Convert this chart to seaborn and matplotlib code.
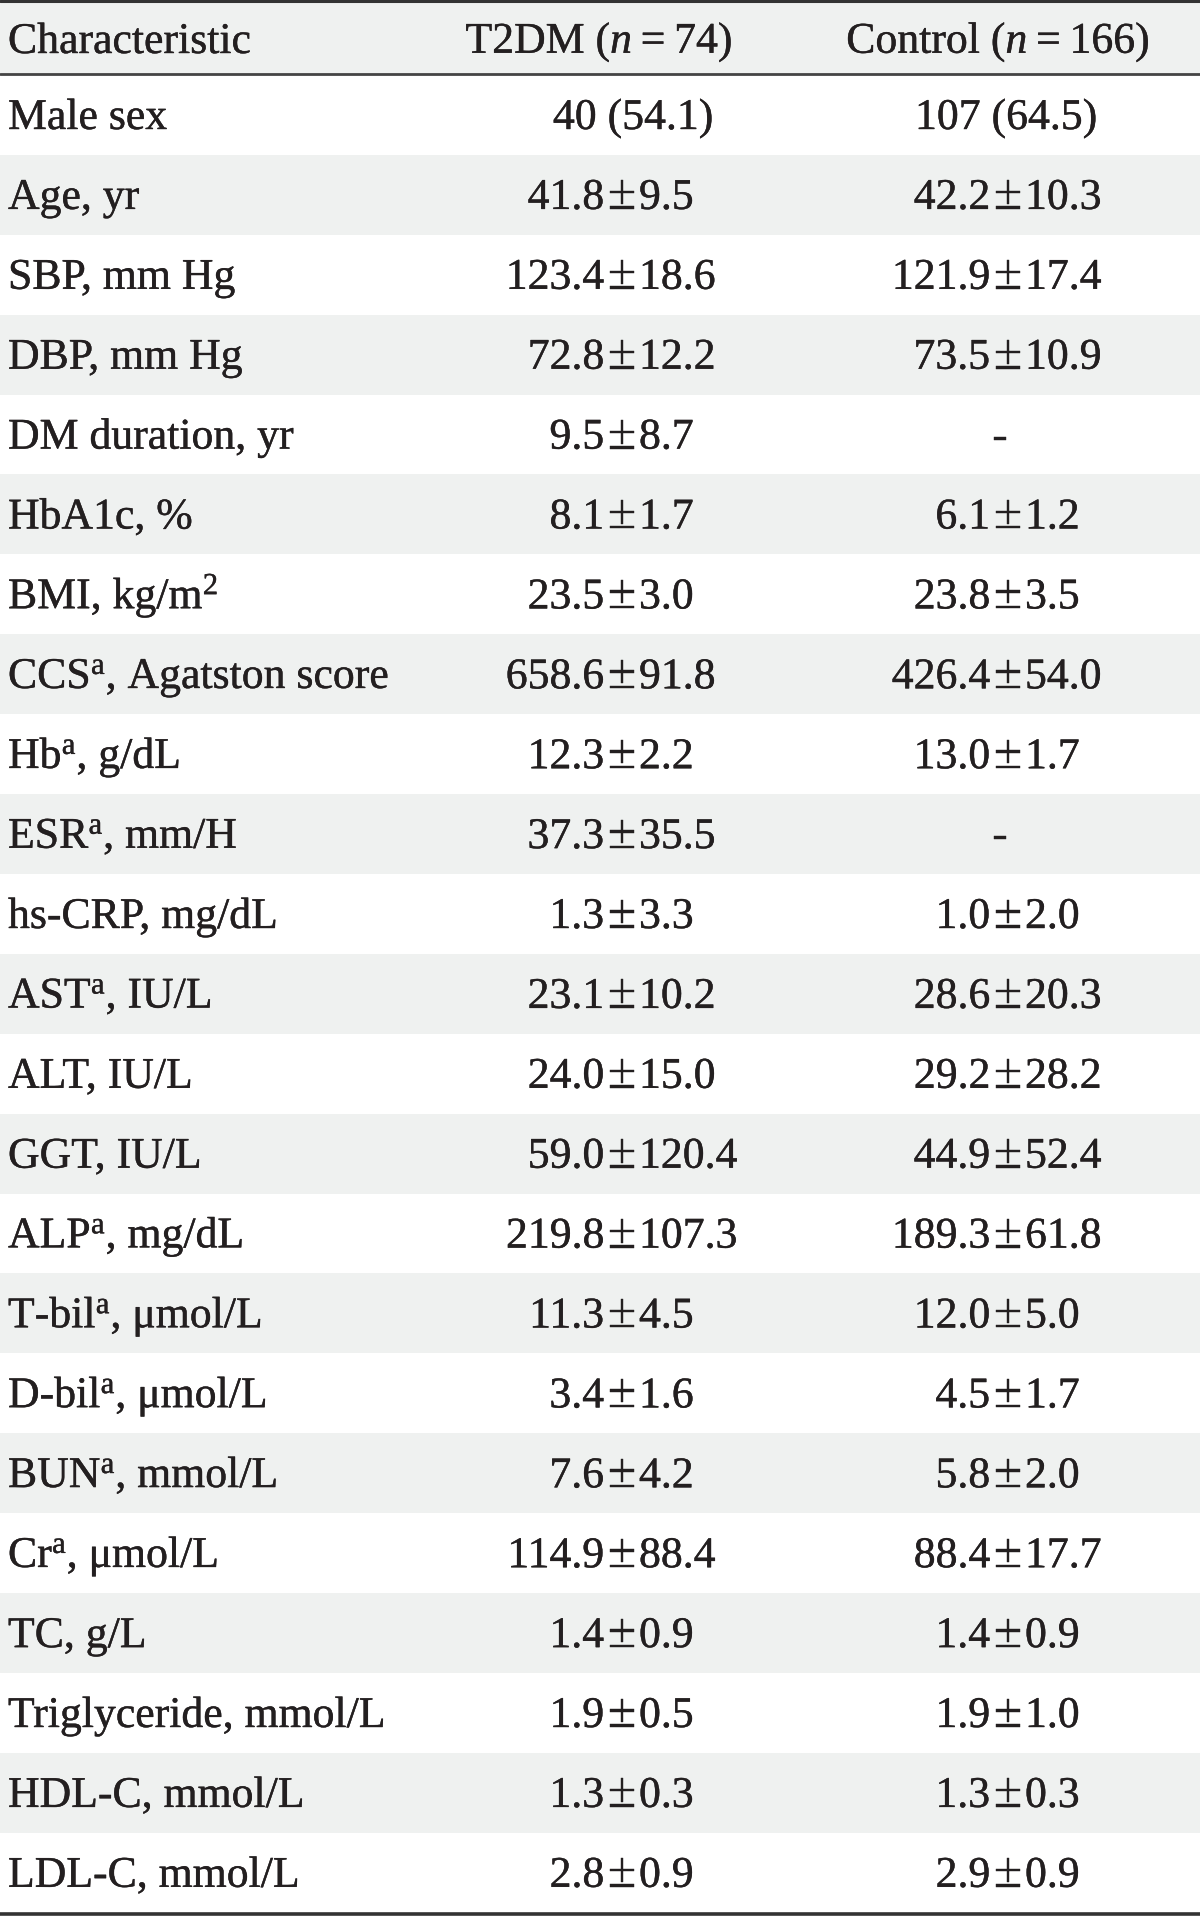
import matplotlib
matplotlib.use("Agg")
import matplotlib.pyplot as plt
import matplotlib.patheffects as pe
import seaborn as sns

sns.set_theme(style="white")
plt.rcParams['font.family'] = ['Liberation Serif', 'DejaVu Serif']
plt.rcParams['mathtext.fontset'] = 'custom'
plt.rcParams['mathtext.rm'] = 'Liberation Serif'
plt.rcParams['mathtext.it'] = 'Liberation Serif:italic'

headers = ["Characteristic", "T2DM ($n$\u2009=\u200974)", "Control ($n$\u2009=\u2009166)"]

characteristics = [
    "Male sex", "Age, yr", "SBP, mm Hg", "DBP, mm Hg", "DM duration, yr",
    "HbA1c, %", r"BMI, kg/m$^{\mathrm{2}}$", r"CCS$^{\mathrm{a}}$, Agatston score",
    r"Hb$^{\mathrm{a}}$, g/dL", r"ESR$^{\mathrm{a}}$, mm/H", "hs-CRP, mg/dL",
    r"AST$^{\mathrm{a}}$, IU/L", "ALT, IU/L", "GGT, IU/L", r"ALP$^{\mathrm{a}}$, mg/dL",
    r"T-bil$^{\mathrm{a}}$, μmol/L", r"D-bil$^{\mathrm{a}}$, μmol/L",
    r"BUN$^{\mathrm{a}}$, mmol/L", r"Cr$^{\mathrm{a}}$, μmol/L", "TC, g/L",
    "Triglyceride, mmol/L", "HDL-C, mmol/L", "LDL-C, mmol/L",
]

t2dm = [
    "40 (54.1)", "41.8±9.5", "123.4±18.6", "72.8±12.2", "9.5±8.7",
    "8.1±1.7", "23.5±3.0", "658.6±91.8", "12.3±2.2", "37.3±35.5",
    "1.3±3.3", "23.1±10.2", "24.0±15.0", "59.0±120.4", "219.8±107.3",
    "11.3±4.5", "3.4±1.6", "7.6±4.2", "114.9±88.4", "1.4±0.9",
    "1.9±0.5", "1.3±0.3", "2.8±0.9",
]

control = [
    "107 (64.5)", "42.2±10.3", "121.9±17.4", "73.5±10.9", "-",
    "6.1±1.2", "23.8±3.5", "426.4±54.0", "13.0±1.7", "-",
    "1.0±2.0", "28.6±20.3", "29.2±28.2", "44.9±52.4", "189.3±61.8",
    "12.0±5.0", "4.5±1.7", "5.8±2.0", "88.4±17.7", "1.4±0.9",
    "1.9±1.0", "1.3±0.3", "2.9±0.9",
]

# layout (pixel units of the 1200x1917 figure)
W, H = 1200, 1917
HEAD_TOP, HEAD_BOT = 3, 74
ROW0, ROW_H = 75, 79.9
BASE = 54
FS = 31.5
INK = "#231f20"
BAND = "#eff1f0"
bold_ink = [pe.withStroke(linewidth=0.3, foreground=INK)]
# column anchors: plus-minus sign position, and center for plain entries
cols = [
    {"pm": 617, "center": 633, "dash": 1000},
    {"pm": 1003, "center": 1006, "dash": 1000},
]

fig = plt.figure(figsize=(W / 100, H / 100), dpi=100)
ax = fig.add_axes([0, 0, 1, 1])
ax.set_xlim(0, W)
ax.set_ylim(H, 0)
ax.axis("off")
sns.despine(ax=ax, left=True, bottom=True)

# header band and rules
ax.axhspan(HEAD_TOP, HEAD_BOT, color=BAND, lw=0)
ax.axhline(1.5, color="#333333", lw=2.2)
ax.axhline(HEAD_BOT, color="#444444", lw=2.0)
ax.axhline(ROW0 + ROW_H * len(characteristics) + 1.5, color="#333333", lw=2.6)


def put(x, y, s, ha, size=FS):
    ax.text(x, y, s, fontsize=size, color=INK, ha=ha, va="baseline",
            path_effects=bold_ink)


hb = 53
put(8, hb, headers[0], "left")
put(599, hb, headers[1], "center")
put(998, hb, headers[2], "center")


def put_value(txt, y, c):
    if "±" in txt:
        left, right = txt.split("±")
        put(c["pm"] - 13, y, left, "right")
        put(c["pm"] + 5, y, "±", "center", FS * 1.15)
        put(c["pm"] + 22, y, right, "left")
    elif txt == "-":
        put(c["dash"], y, txt, "center")
    else:
        put(c["center"], y, txt, "center")


for i, name in enumerate(characteristics):
    top = ROW0 + ROW_H * i
    if i % 2 == 1:
        ax.axhspan(top, top + ROW_H, color=BAND, lw=0)
    y = top + BASE
    put(8, y, name, "left")
    put_value(t2dm[i], y, cols[0])
    put_value(control[i], y, cols[1])

fig.savefig("out.png", dpi=100, facecolor="white")
